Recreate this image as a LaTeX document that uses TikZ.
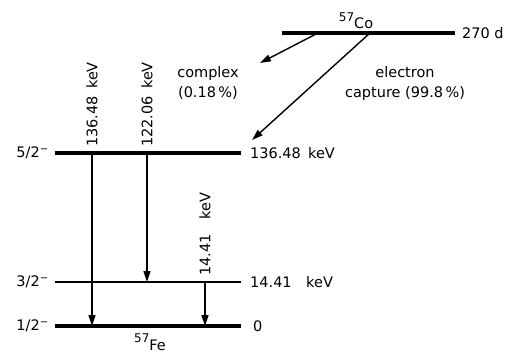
\documentclass[tikz,border=0pt]{standalone}
\usepackage{fontspec}
\setmainfont{DejaVu Sans}
\usetikzlibrary{arrows.meta,positioning}

\newcommand{\isot}[1]{\raisebox{0.5em}{\fontsize{12}{12}\selectfont #1}}
\newcommand{\mn}{\textsuperscript{\char"2212}}

\tikzset{
  level/.style={line width=3.5pt},
  thinlevel/.style={line width=1.8pt},
  trans/.style={line width=1.4pt,-{Triangle[length=11pt,width=7pt]}},
  lbl/.style={inner sep=1pt},
  vlbl/.style={inner sep=1pt,rotate=90,anchor=west}
}

\begin{document}
\begin{tikzpicture}[x=1pt,y=-1pt,font=\fontsize{14.5}{20}\selectfont]
\useasboundingbox (0,0) rectangle (508,356);
% levels
\coordinate (cow) at (282,33);
\coordinate (coe) at (455,33);
\coordinate (l5w) at (55,153);
\coordinate (l5e) at (241,153);
\coordinate (l3w) at (55,282);
\coordinate (l3e) at (241,282);
\coordinate (l1w) at (55,326);
\coordinate (l1e) at (241,326);
\draw[level] (cow) -- (coe);
\draw[level] (l5w) -- (l5e);
\draw[thinlevel] (l3w) -- (l3e);
\draw[level] (l1w) -- (l1e);
% level labels
\node[lbl,anchor=south] (co) at (356,30) {\isot{57}Co};
\node[lbl,anchor=west] (half) at (461,33) {270 d};
\node[lbl,anchor=east] (s5) at (50,153) {5/2\mn};
\node[lbl,anchor=east] (s3) at (50,282) {3/2\mn};
\node[lbl,anchor=east] (s1) at (50,326) {1/2\mn};
\node[lbl,anchor=west] (e5) at (249,153) {136.48\enspace keV};
\node[lbl,anchor=west] (e3) at (249,282) {14.41\quad keV};
\node[lbl,anchor=west] (e1) at (252,326) {0};
\node[lbl,anchor=north] (fe) at (150,333) {\isot{57}Fe};
% decay branches
\coordinate (cx0) at (318,33);
\coordinate (cx1) at (260,63);
\coordinate (ec0) at (370,33);
\coordinate (ec1) at (252,140);
\draw[trans] (cx0) -- (cx1);
\draw[trans] (ec0) -- (ec1);
\node[lbl,align=center] (cx) at (208,83) {complex\\(0.18\,\%)};
\node[lbl,align=center] (ec) at (405,83) {electron\\capture (99.8\,\%)};
% gamma transitions
\coordinate (g1t) at (92,153);
\coordinate (g1b) at (92,326);
\coordinate (g2t) at (147,153);
\coordinate (g2b) at (147,282);
\coordinate (g3t) at (205,282);
\coordinate (g3b) at (205,326);
\draw[trans] (g1t) -- (g1b);
\draw[trans] (g2t) -- (g2b);
\draw[trans] (g3t) -- (g3b);
\node[vlbl] (t1) at (92,148) {136.48\enspace keV};
\node[vlbl] (t2) at (147,148) {122.06\enspace keV};
\node[vlbl] (t3) at (205,277) {14.41\quad keV};
\end{tikzpicture}
\end{document}
